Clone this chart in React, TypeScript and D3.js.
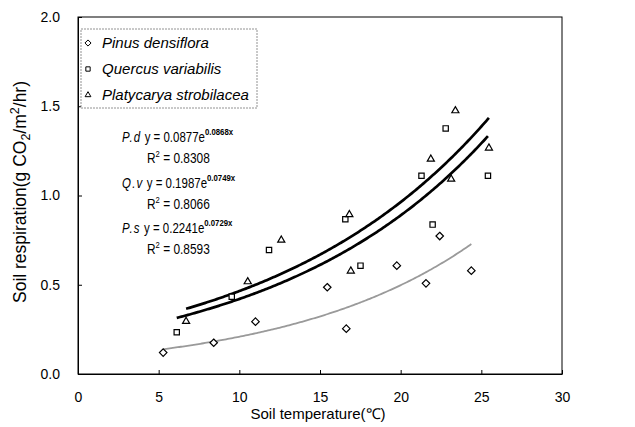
import { useEffect, useRef } from "react";
import * as d3 from "d3";

// scatter values: [soil temperature, soil respiration]
const pinusTemp = [5.28, 8.41, 11.0, 15.45, 16.63, 19.76, 21.57, 22.42, 24.38];
const pinusResp = [0.12, 0.175, 0.293, 0.486, 0.254, 0.607, 0.508, 0.773, 0.579];

const quercusTemp = [6.12, 9.53, 11.84, 16.57, 17.51, 21.29, 21.98, 22.79, 25.41];
const quercusResp = [0.234, 0.433, 0.695, 0.867, 0.607, 1.111, 0.837, 1.376, 1.111];

const platyTemp = [6.7, 10.52, 12.6, 16.82, 16.91, 21.87, 23.13, 23.39, 25.47];
const platyResp = [0.295, 0.517, 0.75, 0.893, 0.577, 1.204, 1.092, 1.475, 1.266];

const speciesNames = ["Pinus densiflora", "Quercus variabilis", "Platycarya strobilacea"];
const speciesShort = ["P.d", "Q.v", "P.s"];
const markerShapes = ["diamond", "square", "triangle"];

// fitted exponential curves as printed on the chart
const fitA = [0.0877, 0.1987, 0.2241];
const fitB = [0.0868, 0.0749, 0.0729];
const fitAText = ["0.0877", "0.1987", "0.2241"];
const fitBText = ["0.0868", "0.0749", "0.0729"];
const fitR2 = ["0.8308", "0.8066", "0.8593"];

const xTicks = [0, 5, 10, 15, 20, 25, 30];
const yTicks = [0, 0.5, 1.0, 1.5, 2.0];

export default function App() {
    const svgRef = useRef<SVGSVGElement | null>(null);

    useEffect(() => {
        const svg = d3.select(svgRef.current);
        svg.selectAll("*").remove();

        const width = 635;
        const height = 427;
        const margin = { top: 17, right: 73, bottom: 53, left: 78 };
        const font = "'Liberation Sans', Arial, sans-serif";

        const x = d3.scaleLinear().domain([0, 30]).range([margin.left, width - margin.right]);
        const y = d3.scaleLinear().domain([0, 2]).range([height - margin.bottom, margin.top]);

        svg.append("rect").attr("width", width).attr("height", height).attr("fill", "#fff");

        // frame
        svg.append("rect")
            .attr("x", x(0)).attr("y", y(2))
            .attr("width", x(30) - x(0)).attr("height", y(0) - y(2))
            .attr("fill", "none").attr("stroke", "#000").attr("stroke-width", 1);

        // X axis
        const gx = svg.append("g")
            .attr("transform", `translate(0,${y(0)})`)
            .call(d3.axisBottom(x).tickValues(xTicks).tickSize(-4).tickSizeOuter(0).tickFormat(d3.format("d")));
        gx.select(".domain").attr("stroke", "#000");
        gx.selectAll("text")
            .attr("y", 18).attr("fill", "#000")
            .style("font-family", font).style("font-size", "14px");

        // Y axis
        const gy = svg.append("g")
            .attr("transform", `translate(${x(0)},0)`)
            .call(d3.axisLeft(y).tickValues(yTicks).tickSize(-4).tickSizeOuter(0).tickFormat(d3.format(".1f")));
        gy.select(".domain").attr("stroke", "#000");
        gy.selectAll("text")
            .attr("x", -18).attr("fill", "#000")
            .style("font-family", font).style("font-size", "14px");

        // axis titles
        svg.append("text")
            .attr("x", 318).attr("y", 419)
            .attr("text-anchor", "middle")
            .style("font-family", font).style("font-size", "15px")
            .text("Soil temperature(\u2103)");

        const yt = svg.append("text")
            .attr("transform", `translate(26,192) rotate(-90)`)
            .attr("text-anchor", "middle")
            .style("font-family", font).style("font-size", "17.5px");
        yt.append("tspan").text("Soil respiration(g CO");
        yt.append("tspan").attr("dy", 4).style("font-size", "12.5px").text("2");
        yt.append("tspan").attr("dy", -4).text("/m");
        yt.append("tspan").attr("dy", -7).style("font-size", "12.5px").text("2");
        yt.append("tspan").attr("dy", 7).text("/hr)");

        const symbolFor = (shape: string, size: number) => {
            if (shape === "diamond") return d3.symbol().type(d3.symbolDiamond2).size(size)();
            if (shape === "square") return d3.symbol().type(d3.symbolSquare2).size(size)();
            return d3.symbol().type(d3.symbolTriangle2).size(size)();
        };

        const temps = [pinusTemp, quercusTemp, platyTemp];
        const resps = [pinusResp, quercusResp, platyResp];

        // fitted curves over the range of each species' data
        temps.forEach((ts, k) => {
            const lo = d3.min(ts) as number;
            const hi = d3.max(ts) as number;
            const xs = d3.range(lo, hi, 0.1).concat([hi]);
            const path = d3.line<number>()
                .x((t) => x(t))
                .y((t) => y(fitA[k] * Math.exp(fitB[k] * t)));
            svg.append("path")
                .attr("d", path(xs))
                .attr("fill", "none")
                .attr("stroke", k === 0 ? "#9a9a9a" : "#000")
                .attr("stroke-width", k === 0 ? 1.8 : 2.7)
                .attr("stroke-linejoin", "round");
        });

        // points
        temps.forEach((ts, k) => {
            svg.append("g").selectAll("path")
                .data(ts.map((t, i) => [t, resps[k][i]]))
                .join("path")
                .attr("transform", (d) => `translate(${x(d[0])},${y(d[1])})`)
                .attr("d", symbolFor(markerShapes[k], 36))
                .attr("fill", "#fff")
                .attr("stroke", "#000")
                .attr("stroke-width", 1.2);
        });

        // legend
        const lg = svg.append("g");
        lg.append("rect")
            .attr("x", 81).attr("y", 29).attr("width", 176).attr("height", 79)
            .attr("fill", "#fff").attr("stroke", "#777").attr("stroke-width", 0.8)
            .attr("stroke-dasharray", "2,1");
        speciesNames.forEach((name, k) => {
            const cy = 43 + k * 26;
            lg.append("path")
                .attr("transform", `translate(88,${cy})`)
                .attr("d", symbolFor(markerShapes[k], 24))
                .attr("fill", "#fff").attr("stroke", "#000").attr("stroke-width", 1);
            lg.append("g")
                .attr("transform", `translate(102,${cy + 5}) scale(0.97,1)`)
                .append("text")
                .style("font-family", font).style("font-size", "15.5px").style("font-style", "italic")
                .text(name);
        });

        // equations (narrow lettering)
        speciesShort.forEach((s, k) => {
            const base = 142 + k * 45.5;
            const eg = svg.append("g").attr("transform", `translate(122,${base}) scale(0.82,1)`);
            const eq = eg.append("text")
                .style("font-family", font).style("font-size", "14px");
            eq.append("tspan").style("font-style", "italic").attr("letter-spacing", 1.5).text(s);
            eq.append("tspan").text(` y = ${fitAText[k]}e`);
            eq.append("tspan").attr("dy", -7).style("font-size", "9.5px").style("font-weight", "bold")
                .text(`${fitBText[k]}x`);

            const rg = svg.append("g").attr("transform", `translate(147,${base + 21}) scale(0.85,1)`);
            const r = rg.append("text")
                .style("font-family", font).style("font-size", "14px");
            r.append("tspan").text("R");
            r.append("tspan").attr("dy", -6).style("font-size", "9px").text("2");
            r.append("tspan").attr("dy", 6).text(` = ${fitR2[k]}`);
        });
    }, []);

    return (
        <svg
            ref={svgRef}
            width={635}
            height={427}
            style={{ position: "absolute", left: 0, top: 0, display: "block" }}
        />
    );
}
